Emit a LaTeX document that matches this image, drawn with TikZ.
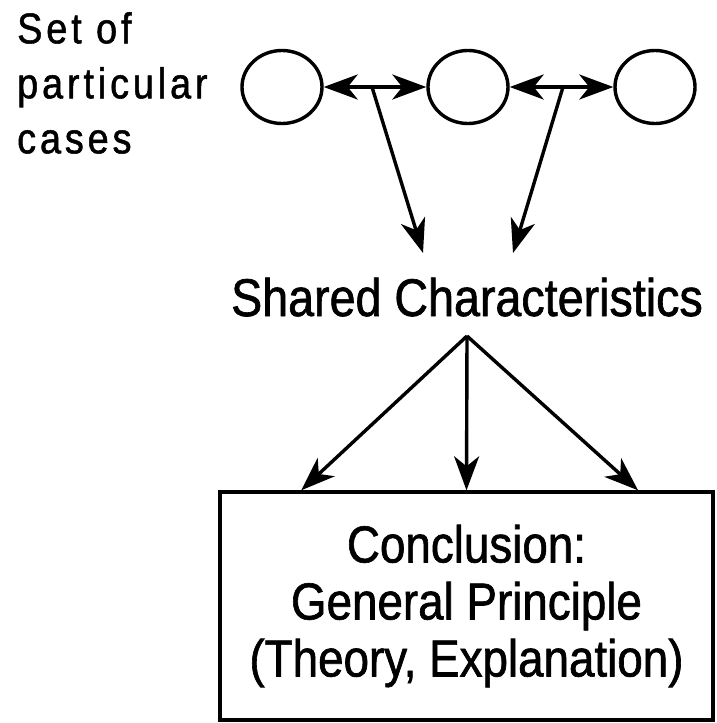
\documentclass[tikz,border=0pt]{standalone}
\usepackage{fontspec}
\setmainfont[FakeStretch=0.88,FakeBold=1.2]{Liberation Sans}
\newfontfamily\casesfont[FakeStretch=0.88,FakeBold=1.2,LetterSpace=9]{Liberation Sans}
\usetikzlibrary{arrows.meta, shapes.geometric}

\begin{document}
\begin{tikzpicture}[x=1pt,y=-1pt]
        \tikzset{>={Stealth[length=34pt,width=25pt,inset=10pt]},
                 link/.style={line width=3.4pt},
                 case/.style={draw,ellipse,line width=3.4pt,minimum width=80pt,minimum height=73pt,inner sep=0pt}}

        \useasboundingbox (0,0) rectangle (716,723);

        \node[anchor=north west,inner sep=0pt,align=left,font=\casesfont\fontsize{43}{55}\selectfont]
            (set) at (17,12) {Set of\\particular\\cases};

        \node[case] (c1) at (282,87) {};
        \node[case] (c2) at (468,87) {};
        \node[case] (c3) at (655,87) {};

        \node[anchor=base,inner sep=0pt,font=\fontsize{53}{57}\selectfont]
            (shared) at (467,316) {Shared Characteristics};

        \node[draw,line width=3.4pt,minimum width=493pt,minimum height=228pt,align=center,
              font=\fontsize{52}{57}\selectfont]
            (box) at (466.5,606) {Conclusion:\\General Principle\\(Theory, Explanation)};

        \path coordinate (j1) at (372,87)
              coordinate (j2) at (563,87)
              coordinate (s1) at (423,253)
              coordinate (s2) at (513,253)
              coordinate (apex) at (467,336);

        \draw[<->,link] (c1) -- (c2);
        \draw[<->,link] (c2) -- (c3);
        \draw[->,link] (j1) -- (s1);
        \draw[->,link] (j2) -- (s2);

        \foreach \side in {145, 90, 34}
            \draw[->,link] (apex) -- (box.\side);
\end{tikzpicture}
\end{document}
